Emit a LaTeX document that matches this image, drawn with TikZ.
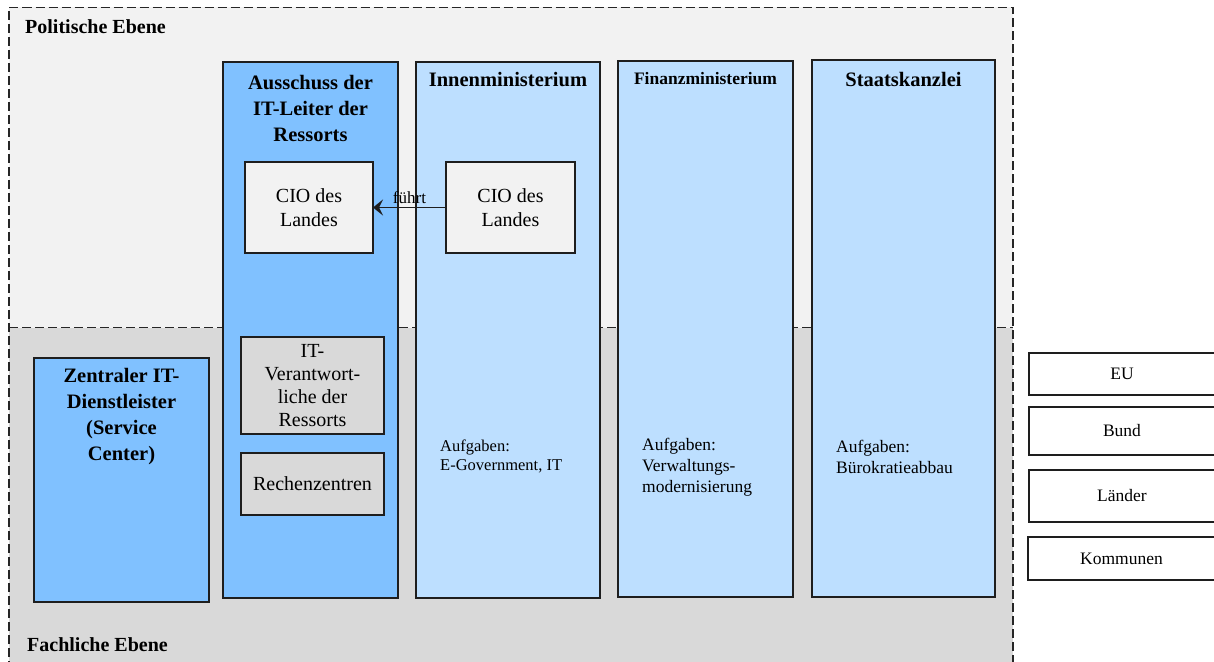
\documentclass[tikz,border=0pt]{standalone}
\usepackage{fontspec}
\setmainfont{Liberation Serif}
\usetikzlibrary{arrows.meta}

\definecolor{polbg}{HTML}{F2F2F2}
\definecolor{fachbg}{HTML}{D9D9D9}
\definecolor{midblue}{HTML}{80C1FF}
\definecolor{lightblue}{HTML}{BDDFFF}
\definecolor{edgecol}{HTML}{1E1E1E}

\tikzset{
  box/.style={draw=edgecol, line width=1.2pt, inner sep=0pt, outer sep=0pt,
              anchor=north west, align=center},
  layerline/.style={draw=black!85, line width=1.2pt, dash pattern=on 9pt off 4pt},
  headbig/.style={inner sep=0pt, align=center, font=\bfseries\fontsize{20.5}{26}\selectfont},
  headsmall/.style={inner sep=0pt, align=center, font=\bfseries\fontsize{17.5}{22}\selectfont},
  layerlabel/.style={inner sep=0pt, anchor=west, font=\bfseries\fontsize{20}{24}\selectfont},
  bodytext/.style={font=\fontsize{20}{24}\selectfont},
  unittext/.style={font=\fontsize{17.5}{21}\selectfont},
  tasktext/.style={inner sep=0pt, anchor=west, align=left},
  leads/.style={draw=edgecol, line width=1.2pt,
                -{Stealth[length=10pt, width=16pt, inset=4pt]}},
}

\begin{document}
\begin{tikzpicture}[x=1pt, y=-1pt]
\clip (0,0) rectangle (1214,661);

% the two levels
\fill[polbg] (9,7.5) rectangle (1013,327.5);
\fill[fachbg] (9,327.5) rectangle (1013,670);
\draw[layerline] (9,670) -- (9,7.5) -- (1013,7.5) -- (1013,670);
\draw[layerline] (9,327.5) -- (1013,327.5);

\node[layerlabel] (pol) at (25,27) {Politische Ebene};
\node[layerlabel] (fach) at (27,645) {Fachliche Ebene};

% tall columns
\node[box, fill=midblue, minimum width=175pt, minimum height=536pt] (aus) at (223,62) {};
\node[box, fill=midblue, minimum width=175pt, minimum height=244pt] (zit) at (34,358) {};
\node[box, fill=lightblue, minimum width=184pt, minimum height=536pt] (imi) at (416,62) {};
\node[box, fill=lightblue, minimum width=175pt, minimum height=536pt] (fmi) at (618,61) {};
\node[box, fill=lightblue, minimum width=183pt, minimum height=537pt] (stk) at (812,60) {};

% column headings
\node[headbig] (aus-t) at (310.5,108.5) {Ausschuss der\\IT-Leiter der\\Ressorts};
\node[headbig] (zit-t) at (121.5,416.5) {Zentraler IT-\\Dienstleister\\(Service\\Center)};
\node[headbig] (imi-t) at (508,80) {Innenministerium};
\node[headsmall] (fmi-t) at (705.5,79) {Finanzministerium};
\node[headbig] (stk-t) at (903.5,79) {Staatskanzlei};

% inner boxes
\node[box, bodytext, fill=polbg, minimum width=128pt, minimum height=91pt] (cioL) at (245,162) {CIO des\\Landes};
\node[box, bodytext, fill=polbg, minimum width=129pt, minimum height=91pt] (cioR) at (446,162) {CIO des\\Landes};
\node[box, bodytext, fill=fachbg, minimum width=143pt, minimum height=97pt,
      font=\fontsize{20}{23.3}\selectfont] (itv) at (241,337) {IT-\\Verantwort-\\liche der\\Ressorts};
\node[box, bodytext, fill=fachbg, minimum width=143pt, minimum height=62pt] (rz) at (241,453) {Rechenzentren};

% tasks of the ministries
\node[tasktext, font=\fontsize{16.5}{19}\selectfont] (imi-a) at (440,456.5) {Aufgaben:\\E-Government, IT};
\node[tasktext, font=\fontsize{17.5}{21}\selectfont] (fmi-a) at (642,467) {Aufgaben:\\Verwaltungs-\\modernisierung};
\node[tasktext, font=\fontsize{17.5}{21}\selectfont] (stk-a) at (836,456.5) {Aufgaben:\\Bürokratieabbau};

% levels of government
\node[box, unittext, fill=white, minimum width=186pt, minimum height=42pt] (eu) at (1029,353) {EU};
\node[box, unittext, fill=white, minimum width=186pt, minimum height=48pt] (bund) at (1029,407) {Bund};
\node[box, unittext, fill=white, minimum width=186pt, minimum height=52pt] (laender) at (1029,470) {Länder};
\node[box, unittext, fill=white, minimum width=187pt, minimum height=43pt] (kommunen) at (1028,537) {Kommunen};

% leadership relation
\draw[leads] (cioR.west) -- (cioL.east)
  node[midway, above=3pt, inner sep=0pt, font=\fontsize{17}{20}\selectfont] (fuehrt) {führt};
\end{tikzpicture}
\end{document}
